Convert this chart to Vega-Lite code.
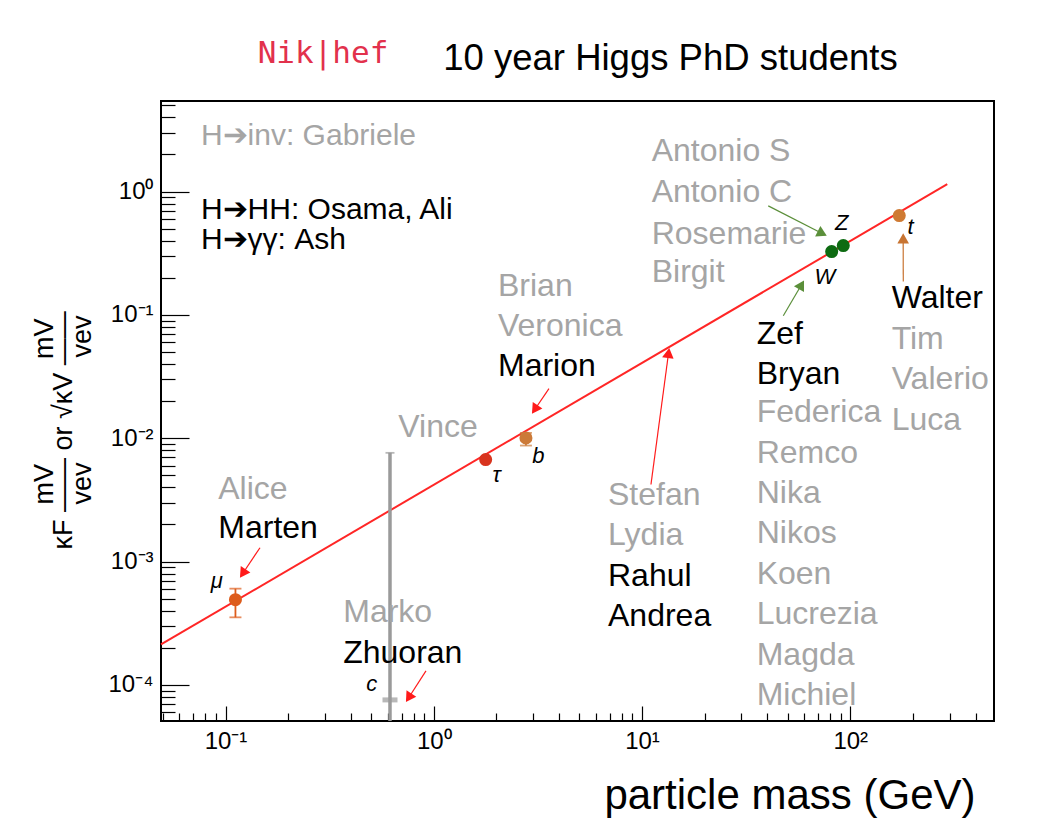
{
  "$schema": "https://vega.github.io/schema/vega-lite/v6.json",
  "width": 833,
  "height": 620,
  "autosize": {"type": "none"},
  "padding": {"left": 161, "top": 101, "right": 64, "bottom": 117},
  "background": "white",
  "config": {
    "font": "Liberation Sans",
    "view": {"stroke": "#000", "strokeWidth": 2},
    "axis": {"titleFontWeight": "normal"}
  },
  "resolve": {"axis": {"x": "independent", "y": "independent"}, "scale": {"color": "independent"}},
  "datasets": {
    "fit": [
      {"m": 0.049, "v": 0.0002128},
      {"m": 292.3, "v": 1.148}
    ],
    "particles": [
      {"p": "μ", "m": 0.1116, "v": 0.0004914, "lo": 0.0003533, "hi": 0.0006035},
      {"p": "τ", "m": 1.775, "v": 0.006722},
      {"p": "b", "m": 2.771, "v": 0.01007, "lo": 0.00873, "hi": 0.01106},
      {"p": "c", "m": 0.6163, "v": 0.0000756, "lo": 0.000051, "hi": 0.00762},
      {"p": "W", "m": 81.41, "v": 0.3267},
      {"p": "Z", "m": 92.56, "v": 0.3654},
      {"p": "t", "m": 171.9, "v": 0.6391}
    ],
    "plabels": [
      {"label": "μ", "m": 0.0907, "v": 0.0006953},
      {"label": "τ", "m": 2.005, "v": 0.005083},
      {"label": "b", "m": 3.176, "v": 0.007149},
      {"label": "c", "m": 0.5032, "v": 0.0001013},
      {"label": "W", "m": 75.6, "v": 0.2049},
      {"label": "Z", "m": 90.9, "v": 0.5547},
      {"label": "t", "m": 195, "v": 0.5149}
    ],
    "arrows": [
      {"target": "μ", "m1": 0.1464, "v1": 0.001296, "m2": 0.121, "v2": 0.0008011, "angle": 214},
      {"target": "b", "m1": 3.574, "v1": 0.02526, "m2": 3.055, "v2": 0.01711, "angle": 214},
      {"target": "line", "m1": 11.04, "v1": 0.004218, "m2": 13.41, "v2": 0.04914, "angle": 8},
      {"target": "c", "m1": 0.9174, "v1": 0.00012986, "m2": 0.7576, "v2": 0.00007877, "angle": 213},
      {"target": "Z", "m1": 40.38, "v1": 0.766, "m2": 73.36, "v2": 0.457, "angle": 117},
      {"target": "W", "m1": 47.69, "v1": 0.0985, "m2": 58.32, "v2": 0.1756, "angle": 30},
      {"target": "t", "m1": 179.7, "v1": 0.1868, "m2": 179.5, "v2": 0.4179, "angle": 0}
    ],
    "names": [
      {"name": "H➔inv: Gabriele", "m": 0.0762, "v": 2.825, "status": "alumni"},
      {"name": "H➔HH: Osama, Ali", "m": 0.0762, "v": 0.7109, "status": "current"},
      {"name": "H➔γγ: Ash", "m": 0.0762, "v": 0.4026, "status": "current"},
      {"name": "Antonio S", "m": 11.13, "v": 2.136, "status": "alumni"},
      {"name": "Antonio C", "m": 11.13, "v": 0.985, "status": "alumni"},
      {"name": "Rosemarie", "m": 11.13, "v": 0.4545, "status": "alumni"},
      {"name": "Birgit", "m": 11.13, "v": 0.2217, "status": "alumni"},
      {"name": "Brian", "m": 2.034, "v": 0.1724, "status": "alumni"},
      {"name": "Veronica", "m": 2.034, "v": 0.08175, "status": "alumni"},
      {"name": "Marion", "m": 2.034, "v": 0.03879, "status": "current"},
      {"name": "Vince", "m": 0.6754, "v": 0.01232, "status": "alumni"},
      {"name": "Alice", "m": 0.0923, "v": 0.003915, "status": "alumni"},
      {"name": "Marten", "m": 0.0923, "v": 0.001857, "status": "current"},
      {"name": "Marko", "m": 0.3675, "v": 0.0003879, "status": "alumni"},
      {"name": "Zhuoran", "m": 0.3675, "v": 0.0001806, "status": "current"},
      {"name": "Stefan", "m": 6.865, "v": 0.003436, "status": "alumni"},
      {"name": "Lydia", "m": 6.865, "v": 0.00163, "status": "alumni"},
      {"name": "Rahul", "m": 6.865, "v": 0.000759, "status": "current"},
      {"name": "Andrea", "m": 6.865, "v": 0.00036, "status": "current"},
      {"name": "Zef", "m": 35.53, "v": 0.07044, "status": "current"},
      {"name": "Bryan", "m": 35.53, "v": 0.03341, "status": "current"},
      {"name": "Federica", "m": 35.53, "v": 0.0163, "status": "alumni"},
      {"name": "Remco", "m": 35.53, "v": 0.00766, "status": "alumni"},
      {"name": "Nika", "m": 35.53, "v": 0.003599, "status": "alumni"},
      {"name": "Nikos", "m": 35.53, "v": 0.001692, "status": "alumni"},
      {"name": "Koen", "m": 35.53, "v": 0.0007952, "status": "alumni"},
      {"name": "Lucrezia", "m": 35.53, "v": 0.0003737, "status": "alumni"},
      {"name": "Magda", "m": 35.53, "v": 0.0001756, "status": "alumni"},
      {"name": "Michiel", "m": 35.53, "v": 0.00008254, "status": "alumni"},
      {"name": "Walter", "m": 158.0, "v": 0.1378, "status": "current"},
      {"name": "Tim", "m": 158.0, "v": 0.06418, "status": "alumni"},
      {"name": "Valerio", "m": 158.0, "v": 0.03044, "status": "alumni"},
      {"name": "Luca", "m": 158.0, "v": 0.01417, "status": "alumni"}
    ]
  },
  "layer": [
    {
      "data": {"name": "fit"},
      "mark": {"type": "line", "color": "#ff2626", "strokeWidth": 2},
      "encoding": {
        "x": {
          "field": "m", "type": "quantitative",
          "scale": {"type": "log", "domain": [0.049, 490], "nice": false},
          "axis": {
            "orient": "bottom",
            "values": [0.05, 0.06, 0.07, 0.08, 0.09, 0.1, 0.2, 0.3, 0.4, 0.5, 0.6, 0.7, 0.8, 0.9, 1, 2, 3, 4, 5, 6, 7, 8, 9, 10, 20, 30, 40, 50, 60, 70, 80, 90, 100, 200, 300, 400],
            "labelExpr": "datum.value == 0.1 ? '10⁻¹' : datum.value == 1 ? '10⁰' : datum.value == 10 ? '10¹' : datum.value == 100 ? '10²' : ''",
            "tickSize": {"condition": {"test": "datum.value == 0.1 || datum.value == 1 || datum.value == 10 || datum.value == 100", "value": -15}, "value": -8},
            "tickColor": "#000",
            "tickWidth": 1.2,
            "labelPadding": 23,
            "labelFontSize": 24,
            "labelColor": "#000",
            "labelOverlap": false,
            "labelFlush": false,
            "domain": false,
            "grid": false,
            "title": "particle mass (GeV)",
            "titleFontSize": 42,
            "titleColor": "#000",
            "titleAlign": "right",
            "titleBaseline": "middle",
            "titleX": 814,
            "titleY": 74
          }
        },
        "y": {
          "field": "v", "type": "quantitative",
          "scale": {"type": "log", "domain": [0.000051, 5.43], "nice": false},
          "axis": {
            "orient": "left",
            "values": [0.00006, 0.00007, 0.00008, 0.00009, 0.0001, 0.0002, 0.0003, 0.0004, 0.0005, 0.0006, 0.0007, 0.0008, 0.0009, 0.001, 0.002, 0.003, 0.004, 0.005, 0.006, 0.007, 0.008, 0.009, 0.01, 0.02, 0.03, 0.04, 0.05, 0.06, 0.07, 0.08, 0.09, 0.1, 0.2, 0.3, 0.4, 0.5, 0.6, 0.7, 0.8, 0.9, 1, 2, 3, 4, 5],
            "labelExpr": "datum.value == 0.0001 ? '10⁻⁴' : datum.value == 0.001 ? '10⁻³' : datum.value == 0.01 ? '10⁻²' : datum.value == 0.1 ? '10⁻¹' : datum.value == 1 ? '10⁰' : ''",
            "tickSize": {"condition": {"test": "datum.value == 0.0001 || datum.value == 0.001 || datum.value == 0.01 || datum.value == 0.1 || datum.value == 1", "value": -28}, "value": -14},
            "tickColor": "#000",
            "tickWidth": 1.2,
            "labelPadding": 36,
            "labelFontSize": 24,
            "labelColor": "#000",
            "labelOverlap": false,
            "labelFlush": false,
            "domain": false,
            "grid": false,
            "title": ["\u200b\u00a0\u00a0\u00a0\u00a0\u00a0\u00a0mV\u00a0\u00a0\u00a0\u00a0\u00a0\u00a0\u00a0\u00a0\u00a0\u00a0\u00a0\u00a0\u00a0\u00a0mV", "κF —— or √κV ——", "\u200b\u00a0\u00a0\u00a0\u00a0\u00a0\u00a0vev\u00a0\u00a0\u00a0\u00a0\u00a0\u00a0\u00a0\u00a0\u00a0\u00a0\u00a0\u00a0\u00a0\u00a0vev"],
            "titleFontSize": 27,
            "titleColor": "#000",
            "titleAngle": -90,
            "titleAlign": "left",
            "titleBaseline": "middle",
            "titleLineHeight": 19,
            "titleX": -117,
            "titleY": 448
          }
        }
      }
    },
    {
      "data": {"name": "arrows"},
      "mark": {"type": "rule", "strokeWidth": 1.2},
      "encoding": {
        "x": {"field": "m1", "type": "quantitative", "scale": {"type": "log", "domain": [0.049, 490], "nice": false}, "axis": null},
        "y": {"field": "v1", "type": "quantitative", "scale": {"type": "log", "domain": [0.000051, 5.43], "nice": false}, "axis": null},
        "x2": {"field": "m2"},
        "y2": {"field": "v2"},
        "color": {"field": "target", "type": "nominal", "legend": null,
          "scale": {"domain": ["μ", "b", "line", "c", "Z", "W", "t"], "range": ["#ff1a1a", "#ff1a1a", "#ff1a1a", "#ff1a1a", "#5b8f3a", "#5b8f3a", "#c87431"]}}
      }
    },
    {
      "data": {"name": "arrows"},
      "mark": {"type": "point", "shape": "triangle-up", "filled": true, "size": 135, "opacity": 1},
      "encoding": {
        "x": {"field": "m2", "type": "quantitative", "scale": {"type": "log", "domain": [0.049, 490], "nice": false}, "axis": null},
        "y": {"field": "v2", "type": "quantitative", "scale": {"type": "log", "domain": [0.000051, 5.43], "nice": false}, "axis": null},
        "angle": {"field": "angle", "type": "quantitative", "scale": null},
        "color": {"field": "target", "type": "nominal", "legend": null,
          "scale": {"domain": ["μ", "b", "line", "c", "Z", "W", "t"], "range": ["#ff1a1a", "#ff1a1a", "#ff1a1a", "#ff1a1a", "#5b8f3a", "#5b8f3a", "#c87431"]}}
      }
    },
    {
      "data": {"name": "particles"},
      "transform": [{"filter": "isValid(datum.lo)"}],
      "mark": {"type": "rule"},
      "encoding": {
        "x": {"field": "m", "type": "quantitative", "scale": {"type": "log", "domain": [0.049, 490], "nice": false}, "axis": null},
        "y": {"field": "lo", "type": "quantitative", "scale": {"type": "log", "domain": [0.000051, 5.43], "nice": false}, "axis": null},
        "y2": {"field": "hi"},
        "strokeWidth": {"condition": {"test": "datum.p == 'c'", "value": 3.5}, "value": 1.8},
        "color": {"field": "p", "type": "nominal", "legend": null,
          "scale": {"domain": ["μ", "τ", "b", "c", "W", "Z", "t"], "range": ["#dd5c1c", "#d8341e", "#cc7a38", "#9a9a9a", "#0d6b12", "#0d6b12", "#cf7a33"]}}
      }
    },
    {
      "data": {"name": "particles"},
      "transform": [{"filter": "isValid(datum.hi)"}],
      "mark": {"type": "tick", "orient": "horizontal", "thickness": 1.8},
      "encoding": {
        "x": {"field": "m", "type": "quantitative", "scale": {"type": "log", "domain": [0.049, 490], "nice": false}, "axis": null},
        "y": {"field": "hi", "type": "quantitative", "scale": {"type": "log", "domain": [0.000051, 5.43], "nice": false}, "axis": null},
        "size": {"condition": {"test": "datum.p == 'c'", "value": 9}, "value": 12},
        "color": {"field": "p", "type": "nominal", "legend": null,
          "scale": {"domain": ["μ", "τ", "b", "c", "W", "Z", "t"], "range": ["#dd5c1c", "#d8341e", "#cc7a38", "#9a9a9a", "#0d6b12", "#0d6b12", "#cf7a33"]}}
      }
    },
    {
      "data": {"name": "particles"},
      "transform": [{"filter": "datum.p == 'μ' || datum.p == 'b'"}],
      "mark": {"type": "tick", "orient": "horizontal", "thickness": 1.8, "size": 12},
      "encoding": {
        "x": {"field": "m", "type": "quantitative", "scale": {"type": "log", "domain": [0.049, 490], "nice": false}, "axis": null},
        "y": {"field": "lo", "type": "quantitative", "scale": {"type": "log", "domain": [0.000051, 5.43], "nice": false}, "axis": null},
        "color": {"field": "p", "type": "nominal", "legend": null,
          "scale": {"domain": ["μ", "τ", "b", "c", "W", "Z", "t"], "range": ["#dd5c1c", "#d8341e", "#cc7a38", "#9a9a9a", "#0d6b12", "#0d6b12", "#cf7a33"]}}
      }
    },
    {
      "data": {"name": "particles"},
      "transform": [{"filter": "datum.p == 'c'"}],
      "mark": {"type": "tick", "orient": "horizontal", "thickness": 5, "size": 15, "color": "#9a9a9a"},
      "encoding": {
        "x": {"field": "m", "type": "quantitative", "scale": {"type": "log", "domain": [0.049, 490], "nice": false}, "axis": null},
        "y": {"field": "v", "type": "quantitative", "scale": {"type": "log", "domain": [0.000051, 5.43], "nice": false}, "axis": null}
      }
    },
    {
      "data": {"name": "particles"},
      "transform": [{"filter": "datum.p != 'c'"}],
      "mark": {"type": "point", "shape": "circle", "filled": true, "size": 170, "opacity": 1},
      "encoding": {
        "x": {
          "field": "m", "type": "quantitative",
          "scale": {"type": "log", "domain": [0.049, 490], "nice": false},
          "axis": {
            "orient": "top", "ticks": false, "labels": false, "domain": false, "grid": false,
            "title": "Nik|hef",
            "titleFont": "DejaVu Sans Mono",
            "titleFontSize": 31,
            "titleColor": "#e2314c",
            "titleAngle": 0,
            "titleAlign": "center",
            "titleBaseline": "middle",
            "titleX": 161.5,
            "titleY": -48
          }
        },
        "y": {
          "field": "v", "type": "quantitative",
          "scale": {"type": "log", "domain": [0.000051, 5.43], "nice": false},
          "axis": {
            "orient": "right", "ticks": false, "labels": false, "domain": false, "grid": false,
            "title": "10 year Higgs PhD students",
            "titleFontSize": 36.5,
            "titleColor": "#000",
            "titleAngle": 0,
            "titleAlign": "center",
            "titleBaseline": "middle",
            "titleX": -324,
            "titleY": -43
          }
        },
        "color": {"field": "p", "type": "nominal", "legend": null,
          "scale": {"domain": ["μ", "τ", "b", "c", "W", "Z", "t"], "range": ["#dd5c1c", "#d8341e", "#cc7a38", "#9a9a9a", "#0d6b12", "#0d6b12", "#cf7a33"]}}
      }
    },
    {
      "data": {"name": "plabels"},
      "mark": {"type": "text", "fontSize": 22, "fontStyle": "italic", "align": "center", "baseline": "middle", "color": "#000"},
      "encoding": {
        "x": {"field": "m", "type": "quantitative", "scale": {"type": "log", "domain": [0.049, 490], "nice": false}, "axis": null},
        "y": {"field": "v", "type": "quantitative", "scale": {"type": "log", "domain": [0.000051, 5.43], "nice": false}, "axis": null},
        "text": {"field": "label"}
      }
    },
    {
      "data": {"name": "names"},
      "mark": {"type": "text", "align": "left", "baseline": "middle"},
      "encoding": {
        "x": {"field": "m", "type": "quantitative", "scale": {"type": "log", "domain": [0.049, 490], "nice": false}, "axis": null},
        "y": {"field": "v", "type": "quantitative", "scale": {"type": "log", "domain": [0.000051, 5.43], "nice": false}, "axis": null},
        "text": {"field": "name"},
        "size": {"condition": {"test": "indexof(datum.name, 'H➔') == 0", "value": 30}, "value": 32},
        "color": {"field": "status", "type": "nominal", "legend": null,
          "scale": {"domain": ["current", "alumni"], "range": ["#000000", "#a5a5a5"]}}
      }
    }
  ]
}
